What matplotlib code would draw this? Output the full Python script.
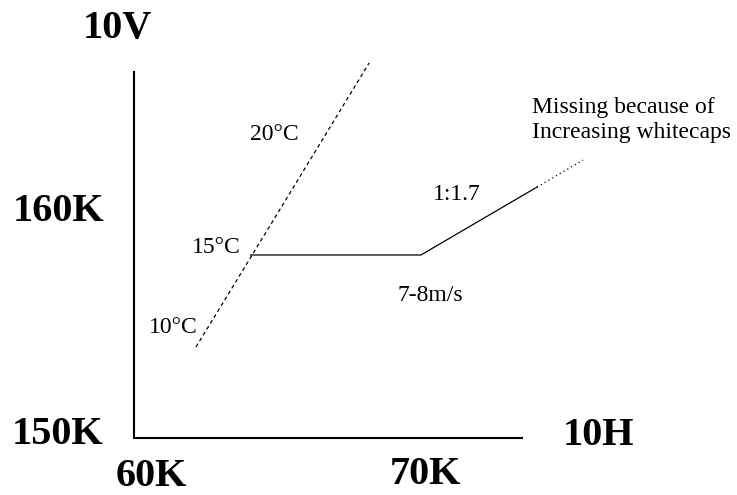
import matplotlib.pyplot as plt

# axis frame (units: K)
axis_x = [60, 60, 73.33]
axis_y = [166.16, 150, 150]

# temperature line (dashed), 10°C -> 15°C -> 20°C
temp_x = [62.13, 64.06, 68.08]
temp_y = [154.02, 158.08, 166.56]

# wind line: flat, then 1:1.7 slope, then missing (dotted)
wind_x = [64.0, 69.86, 73.85]
wind_y = [158.08, 158.08, 161.08]
miss_x = [73.85, 75.43]
miss_y = [161.08, 162.27]

# bold axis labels
big_labels = ["10V", "160K", "150K", "60K", "70K", "10H"]
big_x = [59.42, 57.42, 57.39, 60.58, 70.0, 75.95]
big_y = [168.08, 160.0, 150.15, 148.28, 148.37, 150.13]

plt.rcParams['font.family'] = ['Liberation Serif', 'DejaVu Serif']

fig = plt.figure(figsize=(7.37, 4.95), dpi=100)
ax = fig.add_axes([0, 0, 1, 1])
ax.set_xlim(55.395, 80.72)
ax.set_ylim(147.483, 169.338)
ax.axis('off')

ax.plot(axis_x, axis_y, color='black', lw=1.5, solid_joinstyle='miter')
ax.plot(temp_x, temp_y, color='black', lw=0.9, linestyle=(0, (3, 2.5)))
ax.plot(wind_x, wind_y, color='black', lw=0.9)
ax.plot(miss_x, miss_y, color='black', lw=0.9, linestyle=(0, (1, 2.5)))

for s, x, y in zip(big_labels, big_x, big_y):
    ax.text(x, y, s, fontsize=29, fontweight='bold', ha='center', va='center')

# annotations
ax.text(64.81, 163.42, "20°C", fontsize=17, ha='center', va='center')
ax.text(63.68, 158.41, "15°C", fontsize=17, ha='right', va='center')
ax.text(61.34, 154.90, "10°C", fontsize=17, ha='center', va='center')
ax.text(71.10, 160.73, "1:1.7", fontsize=17, ha='center', va='center')
ax.text(69.07, 156.27, "7-8m/s", fontsize=17, ha='left', va='center')
ax.text(73.68, 164.04, "Missing because of\nIncreasing whitecaps", fontsize=17,
        ha='left', va='center', linespacing=1.25)

fig.savefig('out.png', dpi=100)
